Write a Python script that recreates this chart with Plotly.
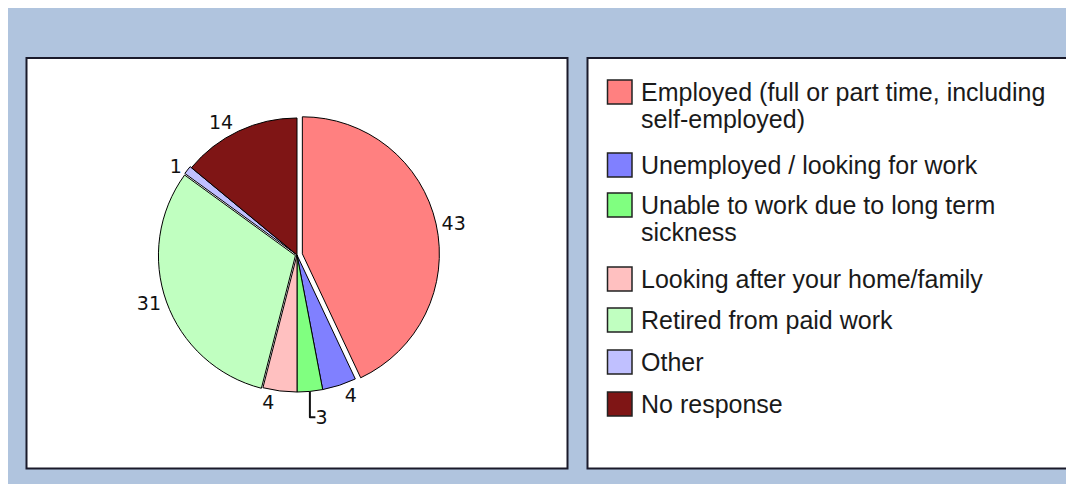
import plotly.graph_objects as go

categories = [
    "Employed (full or part time, including<br>self-employed)",
    "Unemployed / looking for work",
    "Unable to work due to long term<br>sickness",
    "Looking after your home/family",
    "Retired from paid work",
    "Other",
    "No response",
]
values = [43, 4, 3, 4, 31, 1, 14]
colors = ["#ff8080", "#8080ff", "#80ff80", "#ffc0c0", "#c0ffc0", "#c0c0ff", "#7f1515"]
pulls = [0.04, 0, 0, 0, 0.012, 0.012, 0]

# page has an 8px body margin; figure sits at (8, 8)
OFF = 8
W, H = 1074 - OFF, 484 - OFF


def px(x):
    return (x - OFF) / W


def py(y):
    return 1 - (y - OFF) / H


fig = go.Figure()

fig.add_trace(go.Pie(
    labels=categories,
    values=values,
    sort=False,
    direction="clockwise",
    rotation=0,
    pull=pulls,
    marker=dict(colors=colors, line=dict(color="#000000", width=1)),
    textposition="outside",
    texttemplate="%{value}",
    textfont=dict(family="DejaVu Sans", size=19, color="#111111"),
    domain=dict(x=[px(154.5), px(439.5)], y=[py(397.5), py(112.5)]),
    showlegend=False,
    hoverinfo="label+value",
))

shapes = [
    # pie box
    dict(type="rect", xref="paper", yref="paper", x0=px(26.5), x1=px(567.5), y0=py(468.5), y1=py(58),
         fillcolor="#ffffff", line=dict(color="#1a1a2a", width=2), layer="below"),
    # legend box
    dict(type="rect", xref="paper", yref="paper", x0=px(587.5), x1=px(1068.5), y0=py(468.5), y1=py(58),
         fillcolor="#ffffff", line=dict(color="#1a1a2a", width=2), layer="below"),
]

annotations = []
# manual legend built from the data lists
square_tops = [80, 153, 193, 267, 308, 350, 392]
LINE = 27
for cat, col, top in zip(categories, colors, square_tops):
    shapes.append(dict(type="rect", xref="paper", yref="paper",
                       x0=px(607.5), x1=px(632), y0=py(top + 24), y1=py(top),
                       fillcolor=col, line=dict(color="#222222", width=1.5)))
    for k, line_text in enumerate(cat.split("<br>")):
        annotations.append(dict(xref="paper", yref="paper", x=px(639), y=py(top + 12 + k * LINE),
                                xanchor="left", yanchor="middle", align="left",
                                text=line_text, showarrow=False,
                                font=dict(family="Liberation Sans, Arial", size=25, color="#1a1a1a")))

fig.update_layout(
    width=W, height=H,
    margin=dict(l=0, r=0, t=0, b=0),
    paper_bgcolor="#b0c4de",
    plot_bgcolor="#b0c4de",
    shapes=shapes,
    annotations=annotations,
)

fig.write_html("out.html")
